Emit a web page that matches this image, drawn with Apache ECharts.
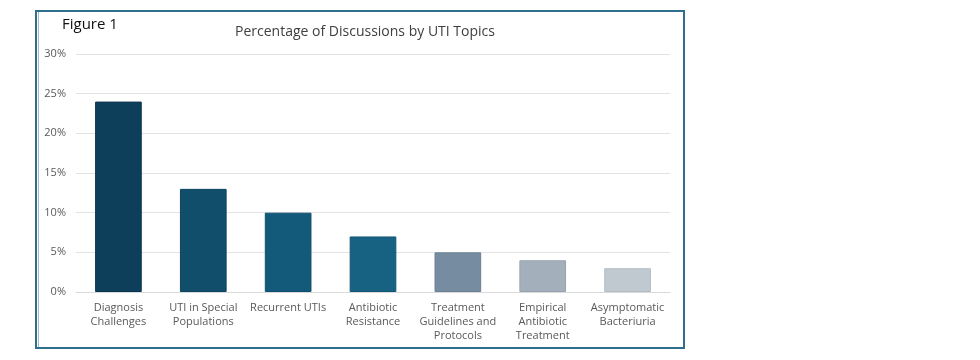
<!DOCTYPE html>
<html><head><meta charset="utf-8">
<script src="https://cdn.jsdelivr.net/npm/echarts@6/dist/echarts.min.js"></script>
<style>html,body{margin:0;padding:0;background:#fff}#c{width:980px;height:360px}</style>
</head><body><div id="c"></div>
<script>
const categories = ["Diagnosis\nChallenges","UTI in Special\nPopulations","Recurrent UTIs","Antibiotic\nResistance","Treatment\nGuidelines and\nProtocols","Empirical\nAntibiotic\nTreatment","Asymptomatic\nBacteriuria"];
const values = [24, 13, 10, 7, 5, 4, 3];
const barColors = ["#0e3f5a","#104e6b","#135a7a","#176283","#768ca1","#a3b0bc","#c0c8d0"];
const borderColors = ["#0a3550","#0c435e","#104f6c","#135675","#6a8095","#97a4b0","#b4bdc6"];
const yTicks = [0, 5, 10, 15, 20, 25, 30];

const chart = echarts.init(document.getElementById('c'));
const font = "'Open Sans', 'Noto Sans', sans-serif";
chart.setOption({
  animation: false,
  graphic: [
    {type:'rect', shape:{x:36, y:11, width:648, height:337}, style:{fill:'none', stroke:'#2f6f8d', lineWidth:2}},
    {type:'line', shape:{x1:38.5, y1:12, x2:38.5, y2:347}, style:{stroke:'#9fbccb', lineWidth:1}},
    {type:'text', left:62, top:17, style:{text:'Figure 1', font:"15px " + font, fill:'#111'}}
  ],
  title: {
    text: 'Percentage of Discussions by UTI Topics',
    left: 360, top: 20, textAlign: 'center',
    textStyle: {fontFamily: font, fontSize: 14, fontWeight: 'normal', color: '#404040'}
  },
  grid: {left: 76, right: 310, top: 54, bottom: 68},
  xAxis: {
    type: 'category', data: categories,
    axisLine: {show: true, lineStyle: {color: '#d9d9d9', width: 1}},
    axisTick: {show: false},
    axisLabel: {fontFamily: font, fontSize: 11, color: '#595959', lineHeight: 14, margin: 9, interval: 0}
  },
  yAxis: {
    type: 'value', min: 0, max: 30, interval: 5,
    axisLine: {show: false}, axisTick: {show: false},
    splitLine: {lineStyle: {color: '#e3e3e3', width: 1}},
    axisLabel: {fontFamily: font, fontSize: 11, color: '#595959', margin: 10,
      formatter: v => yTicks.includes(v) ? v + '%' : ''}
  },
  series: [{
    type: 'bar', barWidth: '55%',
    data: values.map((v, i) => ({value: v, itemStyle: {color: barColors[i], borderColor: borderColors[i], borderWidth: 1}}))
  }]
});
</script></body></html>
